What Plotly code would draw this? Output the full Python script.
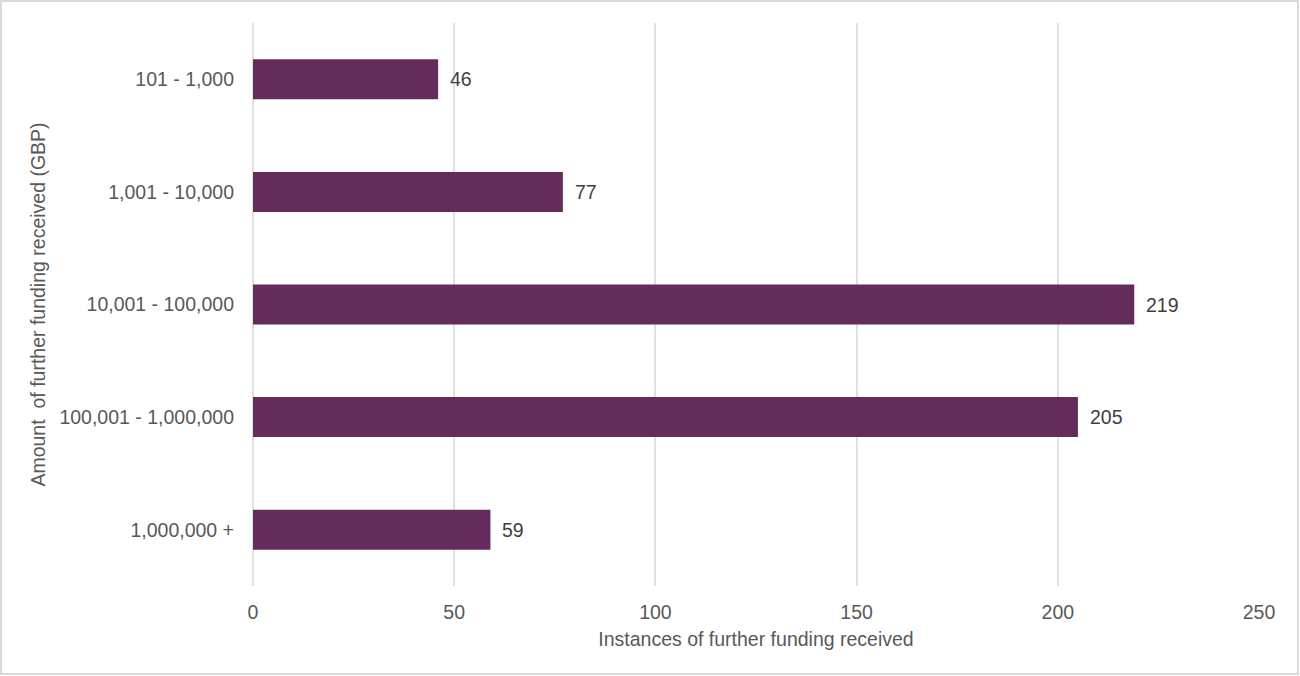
import plotly.graph_objects as go

categories = ["101 - 1,000", "1,001 - 10,000", "10,001 - 100,000", "100,001 - 1,000,000", "1,000,000 +"]
values = [46, 77, 219, 205, 59]
x_ticks = [0, 50, 100, 150, 200, 250]

W, H = 1300, 676
ML, MR, MT, MB = 253, 41, 23, 90
pw, ph = W - ML - MR, H - MT - MB
FONT = "Liberation Sans, Arial"
FS = 19.5

fig = go.Figure(go.Bar(
    y=categories, x=values, orientation="h",
    marker=dict(color="#642c5a", line=dict(width=0)),
    width=0.355,
))

for c, v in zip(categories, values):
    fig.add_annotation(x=v, y=c, text=str(v), showarrow=False, xanchor="left", xshift=10,
                       font=dict(family=FONT, size=FS, color="#404040"))

fig.update_layout(
    width=W, height=H,
    margin=dict(l=ML, r=MR, t=MT, b=MB, pad=0),
    plot_bgcolor="white", paper_bgcolor="white",
    font=dict(family=FONT, size=FS, color="#595959"),
    showlegend=False,
    xaxis=dict(
        range=[0, 250], tickvals=x_ticks, showgrid=True, gridcolor="#e0e0e0", gridwidth=2,
        zeroline=True, zerolinecolor="#e0e0e0", zerolinewidth=2, showline=False,
        ticks="", ticklabelstandoff=12, tickfont=dict(size=FS, color="#595959"),
        title=dict(text="Instances of further funding received", font=dict(size=FS, color="#595959"), standoff=10),
    ),
    yaxis=dict(
        categoryorder="array", categoryarray=categories, autorange="reversed",
        showgrid=False, zeroline=False, showline=False, ticks="", ticklen=0,
        tickfont=dict(size=FS, color="#595959"), ticklabelstandoff=18,
        title=dict(text="Amount  of further funding received (GBP)", font=dict(size=FS, color="#595959"), standoff=8),
    ),
    shapes=[dict(
        type="rect", xref="paper", yref="paper",
        x0=(1 - ML) / pw, x1=(W - ML - 2) / pw,
        y0=-(MB - 2) / ph, y1=(ph + MT - 1) / ph,
        line=dict(color="#d9d9d9", width=2), fillcolor="rgba(0,0,0,0)", layer="below",
    )],
)

fig.write_html("out.html")
